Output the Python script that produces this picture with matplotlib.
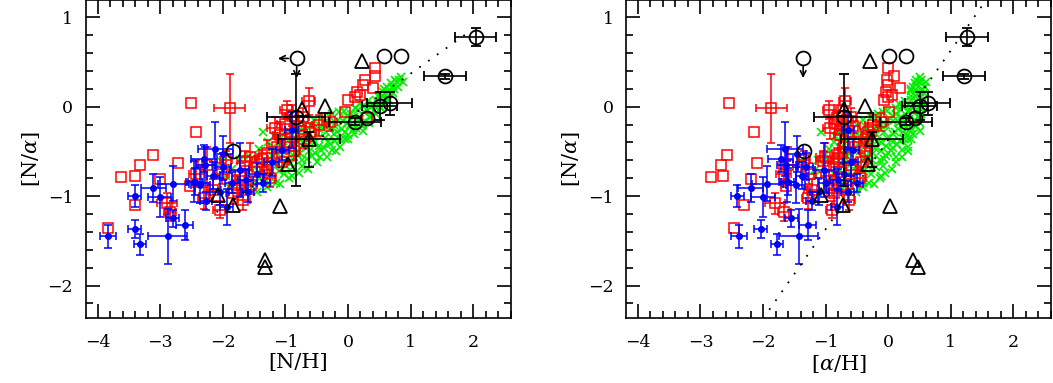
import numpy as np
import matplotlib

matplotlib.use("Agg")
import matplotlib.pyplot as plt
from matplotlib.ticker import MultipleLocator

plt.rcParams["font.family"] = "DejaVu Serif"
plt.rcParams["mathtext.fontset"] = "dejavuserif"

# All values are ([N/H], [N/alpha]); [alpha/H] = [N/H] - [N/alpha] for the right panel.

# green crosses
green_nh = [-2.02, -1.95, -1.90, -1.85, -1.78, -1.72, -1.68, -1.62,
            -1.58, -1.55, -1.50, -1.46, -1.42, -1.40, -1.36, -1.33, -1.30, -1.27, -1.24, -1.21,
            -1.18, -1.15, -1.12, -1.09, -1.06, -1.03, -1.00, -0.97, -0.94, -0.91, -0.88, -0.85, -0.82,
            -0.79, -0.76, -0.73, -0.70, -0.67, -0.64, -0.61, -0.58, -0.55, -0.52, -0.49, -0.46, -0.43, -0.40,
            -0.37, -0.34, -0.31, -0.28, -0.25, -0.22, -0.19, -0.16, -0.13, -0.10, -0.07, -0.04, -0.01,
            0.00, 0.05, 0.08, 0.11, 0.10, 0.17, 0.20, 0.23, 0.26, 0.24, 0.32, 0.35, 0.33,
            0.42, 0.45, 0.48, 0.52, 0.55, 0.58, 0.62, 0.65, 0.68, 0.72, 0.75, 0.80, 0.84, 0.88,
            -1.48, -1.38, -1.26, -1.20, -1.14, -1.10, -1.04, -0.99, -0.95, -0.92, -0.89, -0.86,
            -0.83, -0.80, -0.77, -0.74, -0.71, -0.68, -0.65, -0.62, -0.59, -0.56, -0.53, -0.50,
            -0.47, -0.44, -0.41, -0.38, -0.35, -0.32, -0.29, -0.26, -0.23, -0.20, -0.17, -0.14,
            -0.11, -0.08, -0.05, -0.02, 0.03, 0.00, 0.09, 0.13, 0.16, 0.19, 0.22, 0.25, 0.28,
            0.31, 0.36, 0.39, 0.44, 0.47, 0.50, 0.54, 0.57, 0.60, 0.66, 0.70, 0.74, 0.78, 0.82, 0.52]
green_na = [-0.62, -0.78, -0.90, -0.70, -0.82, -0.60, -0.93, -0.75,
            -0.55, -0.88, -0.68, -0.95, -0.47, -0.80, -0.28, -0.62, -0.90, -0.40, -0.72, -0.55,
            -0.33, -0.85, -0.64, -0.86, -0.46, -0.75, -0.30, -0.58, -0.80, -0.42, -0.68, -0.22, -0.52,
            -0.74, -0.36, -0.60, -0.20, -0.46, -0.70, -0.30, -0.55, -0.15, -0.40, -0.62, -0.25, -0.48, -0.12,
            -0.35, -0.56, -0.20, -0.42, -0.08, -0.30, -0.50, -0.15, -0.45, -0.25, -0.05, -0.36, -0.18,
            -0.32, -0.08, -0.26, -0.02, -0.30, -0.15, 0.03, -0.20, -0.06, -0.27, 0.06, -0.12, -0.18,
            0.02, -0.08, 0.12, -0.02, 0.18, 0.04, 0.22, 0.08, 0.26, 0.15, 0.30, 0.22, 0.33, 0.28,
            -0.60, -0.70, -0.85, -0.45, -0.52, -0.72, -0.38, -0.66, -0.50, -0.28, -0.78, -0.60,
            -0.40, -0.30, -0.52, -0.66, -0.42, -0.28, -0.58, -0.50, -0.22, -0.38, -0.52, -0.30,
            -0.44, -0.56, -0.22, -0.46, -0.28, -0.40, -0.12, -0.48, -0.20, -0.38, -0.28, -0.06,
            -0.36, -0.16, -0.28, -0.10, -0.20, -0.36, -0.12, -0.24, -0.04, -0.14, -0.22, 0.02, -0.16,
            -0.04, 0.00, -0.10, 0.08, -0.02, 0.06, 0.12, 0.20, 0.10, 0.16, 0.22, 0.20, 0.28, 0.30, -0.02]

# red open squares without error bars
red_nh = [-2.51, -2.42, -3.11, -3.32, -2.72, -3.41, -3.62, -3.01, -3.41, -3.83, -2.52,
          0.43, 0.43, 0.40, 0.24, 0.14, 0.11, 0.19, 0.00, -0.05, 0.30, 0.28]
red_na = [0.04, -0.28, -0.54, -0.65, -0.63, -0.77, -0.79, -0.81, -1.10, -1.36, -0.89,
          0.43, 0.34, 0.21, 0.24, 0.17, 0.11, 0.13, 0.07, -0.06, -0.13, 0.30]

# red open squares with error bars
rede_nh = [-1.89, -2.89, -2.84, -0.63, -0.29, -0.46,
           -1.17, -1.09, -1.01, -0.93, -1.14, -1.30, -1.38, -1.57, -1.65, -1.46, -1.30, -1.73,
           -2.02, -2.15, -2.42, -0.87, -0.79, -0.61, -0.98, -1.78, -1.67, -1.83, -2.25, -1.95,
           -2.30, -2.05, -1.55, -1.25, -0.72, -1.05, -0.90, -0.70]
rede_na = [-0.02, -1.08, -1.18, 0.06, -0.17, -0.21,
           -0.24, -0.32, -0.19, -0.39, -0.45, -0.52, -0.58, -0.56, -0.61, -0.67, -0.71, -0.78,
           -0.75, -0.93, -0.75, -0.50, -0.22, -0.28, -0.04, -0.88, -1.04, -0.97, -0.65, -0.60,
           -1.02, -1.15, -0.88, -0.80, -0.12, -0.62, -0.10, -0.36]
rede_xe = [0.25, 0.16, 0.10, 0.10, 0.12, 0.12,
           0.12, 0.10, 0.12, 0.10, 0.12, 0.12, 0.10, 0.15, 0.12, 0.12, 0.10, 0.12,
           0.12, 0.12, 0.12, 0.10, 0.12, 0.10, 0.10, 0.12, 0.10, 0.12, 0.15, 0.10,
           0.10, 0.10, 0.10, 0.10, 0.10, 0.10, 0.10, 0.10]
rede_ye = [0.39, 0.12, 0.10, 0.15, 0.10, 0.12,
           0.12, 0.15, 0.12, 0.10, 0.12, 0.15, 0.10, 0.15, 0.12, 0.12, 0.10, 0.15,
           0.12, 0.12, 0.15, 0.10, 0.12, 0.10, 0.10, 0.12, 0.12, 0.12, 0.20, 0.10,
           0.12, 0.10, 0.10, 0.10, 0.10, 0.10, 0.12, 0.10]

# blue filled dots with error bars
blue_nh = [-3.83, -3.41, -3.32, -3.41, -3.11, -3.01, -2.79, -2.80, -2.88, -2.61,
           -2.46, -2.27, -2.12, -1.99, -2.28, -1.99, -2.36, -2.44, -1.94, -1.73,
           -1.46, -1.22, -0.90, -1.63, -2.15, -1.85, -2.05, -1.60, -2.30, -1.35, -1.05]
blue_na = [-1.45, -1.37, -1.54, -1.00, -0.91, -1.01, -0.86, -1.25, -1.45, -1.32,
           -0.84, -1.05, -0.47, -0.53, -0.65, -0.67, -0.88, -0.84, -1.12, -0.71,
           -0.75, -0.62, -0.26, -0.82, -0.77, -0.85, -0.95, -0.95, -0.58, -0.85, -0.48]
blue_xe = [0.13, 0.10, 0.10, 0.10, 0.20, 0.19, 0.25, 0.10, 0.31, 0.14,
           0.12, 0.10, 0.28, 0.15, 0.15, 0.12, 0.15, 0.12, 0.10, 0.15,
           0.12, 0.12, 0.10, 0.12, 0.10, 0.12, 0.15, 0.10, 0.20, 0.10, 0.10]
blue_ye = [0.13, 0.10, 0.12, 0.12, 0.16, 0.22, 0.20, 0.10, 0.31, 0.17,
           0.23, 0.10, 0.30, 0.20, 0.20, 0.15, 0.20, 0.15, 0.20, 0.30,
           0.12, 0.15, 0.20, 0.12, 0.15, 0.12, 0.15, 0.12, 0.15, 0.10, 0.12]

# black open circles / triangles
circ_nh = [0.58, 0.85, -1.83, 0.30]
circ_na = [0.57, 0.57, -0.49, -0.13]
circe_nh = [2.04, 1.55, 0.67, 0.51, 0.11, -0.83]
circe_na = [0.78, 0.34, 0.04, 0.01, -0.17, -0.12]
circe_xe = [0.33, 0.34, 0.36, 0.28, 0.42, 0.47]
circe_ye_lo = [0.10, 0.03, 0.13, 0.16, 0.04, 0.77]
circe_ye_hi = [0.10, 0.03, 0.13, 0.16, 0.04, 0.49]
tri_nh = [0.22, -0.36, -0.74, -0.96, -2.07, -1.83, -1.09, -1.33, -1.32]
tri_na = [0.51, 0.01, -0.03, -0.64, -0.99, -1.10, -1.11, -1.72, -1.79]
trie_nh = [-0.62]
trie_na = [-0.36]
trie_xe = [0.49]
trie_ye_lo = [0.31]
trie_ye_hi = [0.08]
lim_nh, lim_na = -0.82, 0.54      # upper limit

# dotted reference lines (slope, intercept, x range)
LEFT_LINE = (0.5, -0.13, -2.1, 1.97)
RIGHT_LINE = (1.0, -0.37, -2.1, 1.7)

XLIM = (-4.19, 2.60)
YLIM = (-2.367, 1.188)


def xval(nh, na, alpha):
    nh = np.asarray(nh, float)
    na = np.asarray(na, float)
    return nh - na if alpha else nh


def panel(ax, alpha):
    ax.plot(xval(green_nh, green_na, alpha), green_na, "x", ms=6, mew=1.2,
            color="#00ee00", zorder=2)
    ax.errorbar(xval(rede_nh, rede_na, alpha), rede_na, xerr=rede_xe, yerr=rede_ye,
                fmt="s", ms=6.5, mfc="none", mec="red", mew=1.1, ecolor="red",
                elinewidth=1.1, capsize=3, capthick=1.1, zorder=3)
    ax.plot(xval(red_nh, red_na, alpha), red_na, "s", ms=6.5, mfc="none",
            mec="red", mew=1.1, zorder=3)
    ax.errorbar(xval(blue_nh, blue_na, alpha), blue_na, xerr=blue_xe, yerr=blue_ye,
                fmt="o", ms=4, color="blue", elinewidth=1.1, capsize=3,
                capthick=1.1, zorder=4)
    k = dict(mfc="none", mec="black", mew=1.3, zorder=5)
    ax.errorbar(xval(circe_nh, circe_na, alpha), circe_na, xerr=circe_xe,
                yerr=[circe_ye_lo, circe_ye_hi], fmt="o", ms=10, ecolor="black",
                elinewidth=1.2, capsize=3.5, capthick=1.2, **k)
    ax.plot(xval(circ_nh, circ_na, alpha), circ_na, "o", ms=10, **k)
    ax.errorbar(xval(trie_nh, trie_na, alpha), trie_na, xerr=trie_xe,
                yerr=[trie_ye_lo, trie_ye_hi], fmt="^", ms=9.5, ecolor="black",
                elinewidth=1.2, capsize=3.5, capthick=1.2, **k)
    ax.plot(xval(tri_nh, tri_na, alpha), tri_na, "^", ms=9.5, **k)

    lx = float(xval(lim_nh, lim_na, alpha))
    ax.plot([lx], [lim_na], "o", ms=10, **k)
    arrow = dict(arrowstyle="->", lw=1.2, color="black", shrinkA=6, shrinkB=0)
    ax.annotate("", xy=(lx, lim_na - 0.22), xytext=(lx, lim_na),
                arrowprops=arrow, zorder=5)
    if not alpha:
        ax.annotate("", xy=(lx - 0.30, lim_na), xytext=(lx, lim_na),
                    arrowprops=arrow, zorder=5)

    m, c, x0, x1 = RIGHT_LINE if alpha else LEFT_LINE
    xs = np.array([x0, x1])
    ax.plot(xs, m * xs + c, color="black", lw=1.3, ls=(0, (1, 5)), zorder=6)

    ax.set_xlim(XLIM)
    ax.set_ylim(YLIM)
    ax.xaxis.set_major_locator(MultipleLocator(1))
    ax.xaxis.set_minor_locator(MultipleLocator(0.2))
    ax.yaxis.set_major_locator(MultipleLocator(1))
    ax.yaxis.set_minor_locator(MultipleLocator(0.2))
    ax.tick_params(which="both", direction="in", top=True, right=True,
                   width=1.2, labelsize=12.5)
    ax.tick_params(which="major", length=10)
    ax.tick_params(axis="x", which="major", pad=11)
    ax.tick_params(axis="y", which="major", pad=9)
    ax.tick_params(which="minor", length=5)
    for s in ax.spines.values():
        s.set_linewidth(1.2)
    ax.set_xlabel(r"[$\alpha$/H]" if alpha else "[N/H]", fontsize=15, labelpad=2)
    ax.set_ylabel(r"[N/$\alpha$]", fontsize=15, labelpad=4)


fig = plt.figure(figsize=(10.53, 3.83), dpi=100)
ax1 = fig.add_axes([0.0814, 0.1689, 0.4036, 0.8298])
ax2 = fig.add_axes([0.5945, 0.1689, 0.4036, 0.8298])
panel(ax1, False)
panel(ax2, True)
fig.savefig("out.png", dpi=100)
